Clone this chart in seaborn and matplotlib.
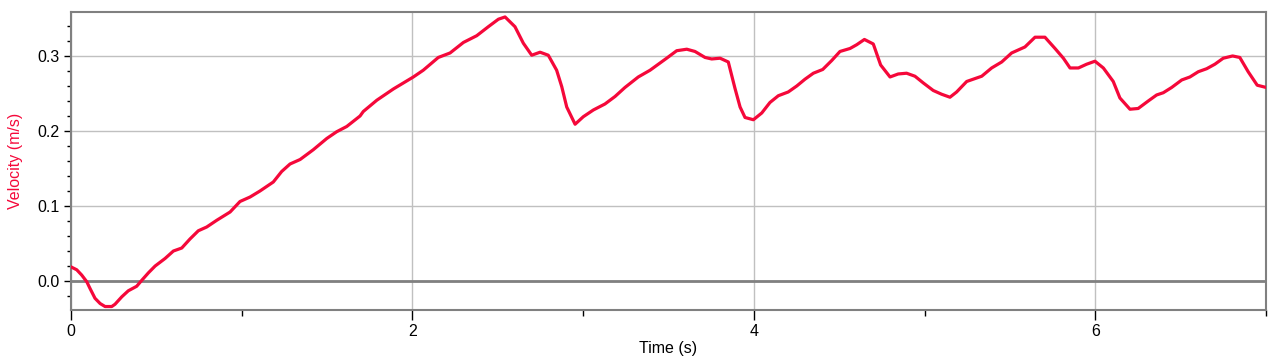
import matplotlib
matplotlib.use("Agg")
import matplotlib.pyplot as plt
import seaborn as sns
import pandas as pd
from matplotlib.ticker import MultipleLocator, FormatStrFormatter

time_s = [0.000, 0.035, 0.064, 0.094, 0.113, 0.142, 0.172, 0.201, 0.240, 0.259,
          0.299, 0.337, 0.386, 0.416, 0.455, 0.494, 0.552, 0.601, 0.650, 0.698,
          0.747, 0.796, 0.855, 0.933, 0.991, 1.050, 1.108, 1.186, 1.235, 1.284,
          1.343, 1.420, 1.499, 1.557, 1.616, 1.694, 1.713, 1.792, 1.889, 1.947,
          2.006, 2.064, 2.152, 2.221, 2.299, 2.377, 2.445, 2.504, 2.543, 2.601,
          2.650, 2.699, 2.748, 2.796, 2.845, 2.875, 2.904, 2.953, 3.001, 3.060,
          3.128, 3.187, 3.245, 3.323, 3.392, 3.489, 3.548, 3.607, 3.655, 3.714,
          3.753, 3.802, 3.850, 3.889, 3.919, 3.948, 3.997, 4.046, 4.094, 4.143,
          4.201, 4.251, 4.299, 4.348, 4.403, 4.456, 4.504, 4.563, 4.602, 4.647,
          4.699, 4.742, 4.797, 4.845, 4.894, 4.943, 4.992, 5.050, 5.099, 5.148,
          5.187, 5.246, 5.334, 5.392, 5.451, 5.509, 5.587, 5.646, 5.704, 5.763,
          5.812, 5.851, 5.900, 5.948, 5.997, 6.046, 6.104, 6.143, 6.202, 6.250,
          6.309, 6.358, 6.397, 6.446, 6.505, 6.553, 6.602, 6.651, 6.699, 6.748,
          6.803, 6.845, 6.894, 6.947, 7.000]

velocity = [0.019, 0.015, 0.008, -0.001, -0.010, -0.023, -0.030, -0.034, -0.034, -0.031,
            -0.021, -0.013, -0.007, 0.001, 0.011, 0.020, 0.030, 0.040, 0.044, 0.056,
            0.067, 0.072, 0.081, 0.092, 0.106, 0.112, 0.120, 0.132, 0.146, 0.156,
            0.162, 0.175, 0.190, 0.199, 0.206, 0.220, 0.226, 0.241, 0.256, 0.264,
            0.272, 0.281, 0.298, 0.304, 0.318, 0.327, 0.339, 0.349, 0.352, 0.339,
            0.317, 0.301, 0.305, 0.301, 0.281, 0.259, 0.232, 0.209, 0.219, 0.228,
            0.236, 0.246, 0.258, 0.272, 0.281, 0.297, 0.307, 0.309, 0.306, 0.298,
            0.296, 0.297, 0.292, 0.257, 0.232, 0.218, 0.215, 0.224, 0.238, 0.247,
            0.252, 0.260, 0.269, 0.277, 0.282, 0.294, 0.306, 0.310, 0.315, 0.322,
            0.316, 0.288, 0.272, 0.276, 0.277, 0.273, 0.264, 0.254, 0.249, 0.245,
            0.252, 0.266, 0.273, 0.284, 0.292, 0.304, 0.312, 0.325, 0.325, 0.310,
            0.297, 0.284, 0.284, 0.289, 0.293, 0.284, 0.266, 0.244, 0.229, 0.230,
            0.240, 0.248, 0.251, 0.258, 0.268, 0.272, 0.279, 0.283, 0.289, 0.297,
            0.300, 0.298, 0.279, 0.261, 0.258]

x_label = "Time (s)"
y_label = "Velocity (m/s)"

df = pd.DataFrame({"t": time_s, "v": velocity})

sns.set_style("white")
plt.rcParams["font.family"] = ["Liberation Sans", "DejaVu Sans"]

fig = plt.figure(figsize=(12.77, 3.59), dpi=100)
ax = fig.add_axes([0.0554, 0.1357, 0.9362, 0.8317])

sns.lineplot(data=df, x="t", y="v", ax=ax, color="#F5083A", linewidth=2.3,
             zorder=5, estimator=None, sort=False)

ax.set_xlim(0, 7)
ax.set_ylim(-0.039, 0.359)

ax.xaxis.set_major_locator(MultipleLocator(2))
ax.xaxis.set_minor_locator(MultipleLocator(1))
ax.yaxis.set_major_locator(MultipleLocator(0.1))
ax.yaxis.set_minor_locator(MultipleLocator(0.02))
ax.yaxis.set_major_formatter(FormatStrFormatter("%.1f"))
ax.xaxis.set_major_formatter(FormatStrFormatter("%d"))

ax.grid(True, which="major", color="#c0c0c0", linewidth=1.0, zorder=0)
ax.axhline(0, color="#808080", linewidth=2.0, zorder=2)

for s in ax.spines.values():
    s.set_color("#808080")
    s.set_linewidth(1.5)

ax.tick_params(axis="both", which="both", direction="out", colors="black",
               labelsize=11.5, width=1.0)
ax.tick_params(axis="y", which="major", length=5, pad=3, left=True)
ax.tick_params(axis="y", which="minor", length=3, left=True)
ax.tick_params(axis="x", which="major", length=7, pad=3, bottom=True)
ax.tick_params(axis="x", which="minor", length=4, bottom=True)

ax.set_xlabel(x_label, fontsize=11.5, color="black", labelpad=1)
ax.set_ylabel(y_label, fontsize=11.5, color="#F5083A", labelpad=10)

fig.savefig("out.png", dpi=100)
